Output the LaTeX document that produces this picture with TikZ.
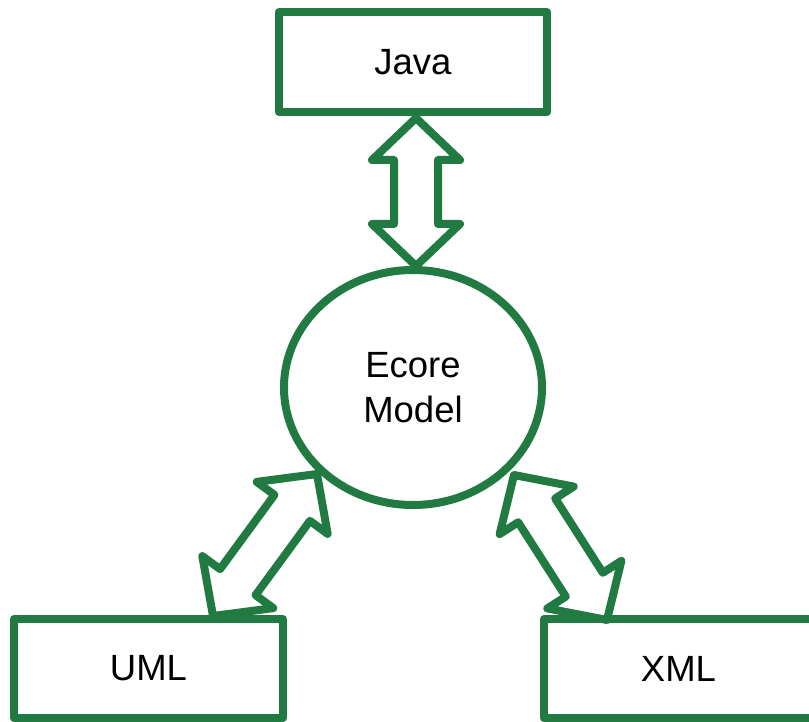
\documentclass[tikz,border=0pt]{standalone}
\usepackage{fontspec}
\setmainfont{Liberation Sans}
\usetikzlibrary{calc,shapes.geometric}
\definecolor{eg}{RGB}{32,122,66}
\tikzset{
  lbl/.style={font=\fontsize{36.5}{44.5}\selectfont, text=black, align=center},
  box/.style={lbl, draw=eg, line width=8pt, line join=round, minimum width=269pt, minimum height=99pt, inner sep=0pt},
  oval/.style={lbl, ellipse, draw=eg, line width=8pt, minimum width=258pt, minimum height=235pt, inner sep=0pt},
  dbl/.style={draw=eg, line width=8pt, line join=round}
}
\newcommand{\dblarrow}[2]{%
  \coordinate (tA) at (#1);
  \coordinate (tB) at (#2);
  \coordinate (hA) at ($(tA)!42pt!(tB)$);
  \coordinate (hB) at ($(tB)!42pt!(tA)$);
  \draw[dbl] (tA) -- ($(hA)!44pt!90:(tB)$) -- ($(hA)!22pt!90:(tB)$)
    -- ($(hB)!22pt!-90:(tA)$) -- ($(hB)!44pt!-90:(tA)$) -- (tB)
    -- ($(hB)!44pt!90:(tA)$) -- ($(hB)!22pt!90:(tA)$)
    -- ($(hA)!22pt!-90:(tB)$) -- ($(hA)!44pt!-90:(tB)$) -- cycle;
}
\begin{document}
\begin{tikzpicture}[x=1pt,y=-1pt]
\useasboundingbox (0,0) rectangle (809,722);
\node[box, minimum width=268pt, minimum height=100pt] (java) at (413,62) {Java};
\node[oval] (ecore) at (413,387.5) {Ecore\\Model};
\node[box] (uml) at (148.5,668.5) {UML};
\node[box] (xml) at (678.5,668.5) {XML};
\coordinate (jtop) at (416,118);
\coordinate (jbot) at (416,266);
\coordinate (utop) at (317,474);
\coordinate (ubot) at (213,616);
\coordinate (xtop) at (514,475);
\coordinate (xbot) at (607,620);
\dblarrow{jtop}{jbot}
\dblarrow{utop}{ubot}
\dblarrow{xtop}{xbot}
\end{tikzpicture}
\end{document}
